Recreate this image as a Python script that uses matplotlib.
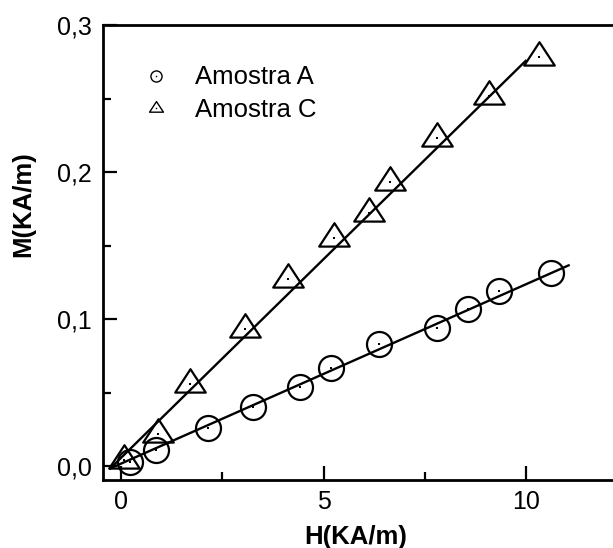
import numpy as np
import matplotlib
matplotlib.use("Agg")
import matplotlib.pyplot as plt
from matplotlib.path import Path
from matplotlib.lines import Line2D
from matplotlib.legend_handler import HandlerTuple

plt.rcParams['font.family'] = ['Liberation Sans', 'DejaVu Sans']

# Amostra A (circles)
hA = [0.22, 0.87, 2.14, 3.26, 4.42, 5.19, 6.36, 7.79, 8.56, 9.33, 10.62]
mA = [0.003, 0.011, 0.026, 0.040, 0.054, 0.067, 0.083, 0.094, 0.107, 0.119, 0.131]
# Amostra C (triangles)
hC = [0.06, 0.91, 1.70, 3.05, 4.13, 5.25, 6.11, 6.64, 7.81, 9.08, 10.32]
mC = [0.004, 0.022, 0.056, 0.093, 0.127, 0.155, 0.172, 0.193, 0.223, 0.252, 0.278]
# fitted straight lines (end points)
fitA_h = [-0.27, 11.05]
fitA_m = [-0.0016, 0.1365]
fitC_h = [-0.27, 9.99]
fitC_m = [-0.0016, 0.2756]

labels = ["Amostra A", "Amostra C"]
xticks = [0, 5, 10]
yticks = [0.0, 0.1, 0.2, 0.3]
yticklabels = ["0,0", "0,1", "0,2", "0,3"]

tri = Path([(0, 1.0), (-1.0, -0.53), (1.0, -0.53), (0, 1.0)],
           [Path.MOVETO, Path.LINETO, Path.LINETO, Path.CLOSEPOLY])

fig = plt.figure(figsize=(6.13, 5.48), dpi=100)
ax = fig.add_axes([103/613, 68/548, 515/613, 455/548])

ax.plot(fitA_h, fitA_m, color='black', lw=1.7, zorder=2)
ax.plot(fitC_h, fitC_m, color='black', lw=1.7, zorder=2)

ax.plot(hA, mA, linestyle='none', marker='o', ms=18, mfc='none', mec='black', mew=1.6, zorder=3)
ax.plot(hC, mC, linestyle='none', marker=tri, ms=22, mfc='none', mec='black', mew=1.6, zorder=3)
ax.plot(hA + hC, mA + mC, linestyle='none', marker='s', ms=1.6, mfc='black', mec='black', mew=0, zorder=4)

hcirc = (Line2D([], [], ls='none', marker='o', ms=8, mfc='none', mec='black', mew=1.0),
         Line2D([], [], ls='none', marker='s', ms=1.0, mfc='black', mew=0))
htri = (Line2D([], [], ls='none', marker=tri, ms=10, mfc='none', mec='black', mew=1.0),
        Line2D([], [], ls='none', marker='s', ms=1.0, mfc='black', mew=0))
ax.legend([hcirc, htri], labels, handler_map={tuple: HandlerTuple(ndivide=1, pad=0)},
          loc='upper left', bbox_to_anchor=(0.078, 0.911), frameon=False, fontsize=18.5,
          borderpad=0, borderaxespad=0, handlelength=1.0, handletextpad=1.0, labelspacing=0.35)

ax.set_xticks(xticks)
ax.set_xticklabels([str(t) for t in xticks])
ax.set_yticks(yticks)
ax.set_yticklabels(yticklabels)
ax.set_xticks([2.5, 7.5, 12.5], minor=True)
ax.set_yticks([0.05, 0.15, 0.25], minor=True)
ax.set_xlim(-0.45, 12.27)
ax.set_ylim(-0.0095, 0.3)
ax.tick_params(which='major', direction='in', length=10, width=1.6, labelsize=18, pad=8)
ax.tick_params(which='minor', direction='in', length=6, width=1.6)
ax.tick_params(axis='x', which='major', pad=7)
for s in ['left', 'bottom', 'top']:
    ax.spines[s].set_linewidth(2.0)
ax.spines['right'].set_visible(False)

fig.text(356/613, 1 - 537/548, "H(KA/m)", ha='center', va='center', fontsize=18.5, fontweight='bold')
fig.text(23/613, 1 - 204/548, "M(KA/m)", ha='center', va='center', rotation=90, fontsize=18.5, fontweight='bold')

fig.savefig("out.png", dpi=100)
